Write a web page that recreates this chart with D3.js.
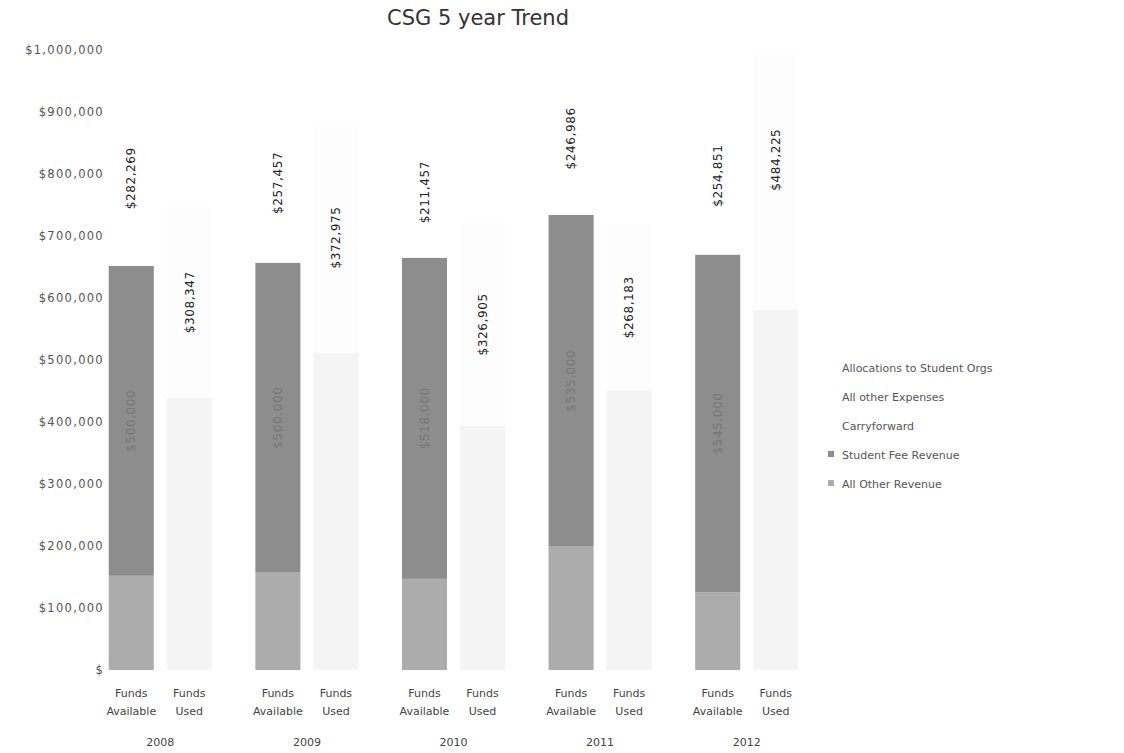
<!DOCTYPE html>
<html>
<head>
<meta charset="utf-8">
<script src="https://cdn.jsdelivr.net/npm/d3@7"></script>
<style>
  body { margin: 0; background: #fff; }
  text { font-family: 'DejaVu Sans', sans-serif; }
</style>
</head>
<body>
<svg id="chart" width="1124" height="753"></svg>
<script>
'use strict'

const years = ['2008', '2009', '2010', '2011', '2012']
const kinds = ['Funds Available', 'Funds Used']

// Funds Available stack (bottom to top)
const otherRevenue = [152000, 157000, 147000, 199000, 125000]
const studentFee = [500000, 500000, 518000, 535000, 545000]
const carryforward = [282269, 257457, 211457, 246986, 254851]
// Funds Used stack (bottom to top)
const otherExpenses = [439000, 511000, 394000, 451000, 581000]
const allocations = [308347, 372975, 326905, 268183, 484225]

const yTicks = [0, 100000, 200000, 300000, 400000, 500000, 600000, 700000, 800000, 900000, 1000000]

const legendItems = [
    {name: 'Allocations to Student Orgs', color: '#ffffff'},
    {name: 'All other Expenses', color: '#ffffff'},
    {name: 'Carryforward', color: '#ffffff'},
    {name: 'Student Fee Revenue', color: '#8d8d8d'},
    {name: 'All Other Revenue', color: '#acacac'},
]

const svg = d3.select('#chart')
const plotTop = 50, plotBottom = 670

const y = d3.scaleLinear().domain([0, 1000000]).range([plotBottom, plotTop])
const x0 = d3.scaleBand().domain(years).range([87, 820])
const x1 = d3.scaleBand().domain(kinds).range([0, x0.bandwidth()])
    .paddingInner(0.224)
    .paddingOuter(0.375)

const money = d3.format('$,')

// build segments for every column
const segments = []
years.forEach(function (yr, i) {
    let base = 0
    ;[
        {v: otherRevenue[i], fill: '#acacac', label: false},
        {v: studentFee[i], fill: '#8d8d8d', label: true, faint: true},
        {v: carryforward[i], fill: '#ffffff', label: true},
    ].forEach(function (s) {
        segments.push({year: yr, kind: kinds[0], y0: base, y1: base + s.v, v: s.v, fill: s.fill, label: s.label, faint: s.faint})
        base += s.v
    })
    base = 0
    ;[
        // the used columns are almost washed out in the scan
        {v: otherExpenses[i], fill: '#f4f4f4', label: false},
        {v: allocations[i], fill: '#fdfdfd', label: true},
    ].forEach(function (s) {
        segments.push({year: yr, kind: kinds[1], y0: base, y1: base + s.v, v: s.v, fill: s.fill, label: s.label})
        base += s.v
    })
})

// title
svg.append('text')
    .attr('x', 478).attr('y', 25)
    .attr('text-anchor', 'middle')
    .attr('font-size', 21)
    .attr('fill', '#333')
    .text('CSG 5 year Trend')

// y axis labels only, no line or grid
svg.append('g')
    .attr('transform', 'translate(104,0)')
    .call(d3.axisLeft(y).tickValues(yTicks).tickSize(0).tickPadding(0)
        .tickFormat(function (d) { return d === 0 ? '$' : money(d) }))
    .call(function (g) { g.select('.domain').remove() })
    .selectAll('text')
    .attr('font-family', "'DejaVu Sans', sans-serif")
    .attr('font-size', 11.5)
    .attr('letter-spacing', 1.3)
    .attr('fill', '#555')

const bars = svg.append('g')
bars.selectAll('rect')
    .data(segments)
    .enter()
    .append('rect')
    .attr('x', function (d) { return x0(d.year) + x1(d.kind) })
    .attr('width', x1.bandwidth())
    .attr('y', function (d) { return y(Math.min(d.y1, 1000000)) })
    .attr('height', function (d) { return y(d.y0) - y(Math.min(d.y1, 1000000)) })
    .attr('fill', function (d) { return d.fill })

// data labels, rotated, centred in the segment
bars.selectAll('text')
    .data(segments.filter(function (d) { return d.label }))
    .enter()
    .append('text')
    .attr('transform', function (d) {
        const cx = x0(d.year) + x1(d.kind) + x1.bandwidth() / 2
        const cy = y((d.y0 + d.y1) / 2)
        return 'translate(' + cx + ',' + cy + ') rotate(-90)'
    })
    .attr('text-anchor', 'middle')
    .attr('dy', '0.35em')
    .attr('font-size', 12)
    .attr('letter-spacing', 0.6)
    .attr('fill', function (d) { return d.faint ? '#777' : '#222' })
    .text(function (d) { return money(d.v) })

// category labels: two lines per column, then the year
const cats = svg.append('g')
years.forEach(function (yr) {
    kinds.forEach(function (k) {
        const cx = x0(yr) + x1(k) + x1.bandwidth() / 2
        const t = cats.append('text')
            .attr('x', cx).attr('y', 697)
            .attr('text-anchor', 'middle')
            .attr('font-size', 11)
            .attr('fill', '#444')
        t.append('tspan').attr('x', cx).text('Funds')
        t.append('tspan').attr('x', cx).attr('dy', 18).text(k.replace('Funds ', ''))
    })
    cats.append('text')
        .attr('x', x0(yr) + x0.bandwidth() / 2).attr('y', 746)
        .attr('text-anchor', 'middle')
        .attr('font-size', 11)
        .attr('fill', '#444')
        .text(yr)
})

// legend
const legend = svg.append('g').attr('transform', 'translate(828,368)')
const item = legend.selectAll('g')
    .data(legendItems)
    .enter()
    .append('g')
    .attr('transform', function (d, i) { return 'translate(0,' + (i * 29) + ')' })
item.append('rect')
    .attr('x', 0).attr('y', -4)
    .attr('width', 6).attr('height', 6)
    .attr('fill', function (d) { return d.color })
item.append('text')
    .attr('x', 14).attr('dy', '0.35em')
    .attr('font-size', 11)
    .attr('fill', '#555')
    .text(function (d) { return d.name })
</script>
</body>
</html>
